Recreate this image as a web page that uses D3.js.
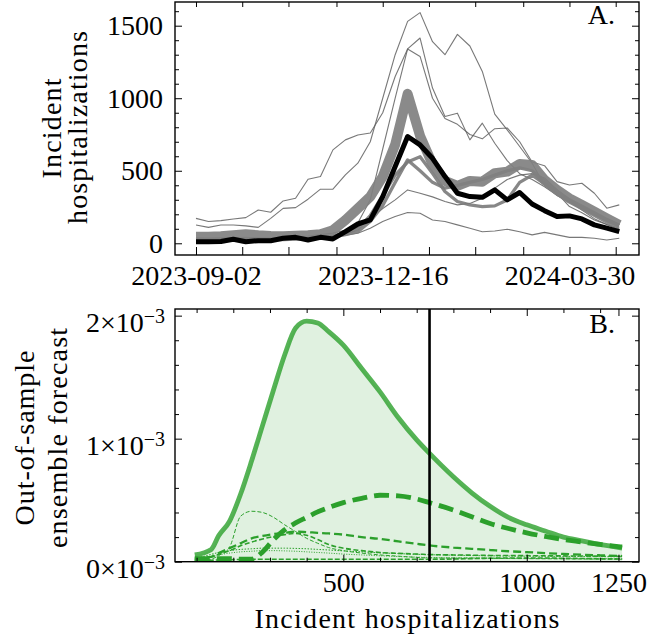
<!DOCTYPE html>
<html>
<head>
<meta charset="utf-8">
<script src="https://cdn.jsdelivr.net/npm/d3@7/dist/d3.min.js"></script>
<style>
  body { margin: 0; background: #fff; }
</style>
</head>
<body>
<div id="chart"></div>
<script>
// ---- panel A data (weekly incident hospitalizations) ----
const weeks = ["2023-09-02","2023-09-09","2023-09-16","2023-09-23","2023-09-30","2023-10-07","2023-10-14",
  "2023-10-21","2023-10-28","2023-11-04","2023-11-11","2023-11-18","2023-11-25","2023-12-02","2023-12-09",
  "2023-12-16","2023-12-23","2023-12-30","2024-01-06","2024-01-13","2024-01-20","2024-01-27","2024-02-03",
  "2024-02-10","2024-02-17","2024-02-24","2024-03-02","2024-03-09","2024-03-16","2024-03-23","2024-03-30",
  "2024-04-06","2024-04-13","2024-04-20","2024-04-27"];

const observed = [11, 11, 12, 28, 11, 18, 18, 35, 41, 23, 41, 30, 80, 133, 161, 322, 529, 736, 678, 586,
  460, 345, 322, 317, 368, 299, 350, 271, 225, 184, 189, 168, 127, 104, 80];

const bestModel = [45, 45, 48, 55, 62, 55, 50, 48, 52, 55, 62, 90, 160, 240, 322, 460, 680, 1030, 740, 545,
  430, 395, 430, 425, 483, 494, 547, 540, 437, 368, 310, 265, 218, 172, 126];

const midModels = [
  [30, 28, 30, 32, 34, 30, 28, 30, 34, 36, 40, 50, 70, 100, 190, 330, 470, 560, 597, 483,
   357, 288, 265, 253, 258, 299, 420, 470, 410, 340, 290, 245, 200, 160, 125],
  [25, 25, 26, 28, 30, 28, 26, 28, 30, 34, 38, 45, 60, 80, 150, 260, 420, 575, 500, 420,
   380, 400, 420, 440, 470, 500, 520, 500, 430, 360, 300, 255, 210, 165, 125]
];

const thinModels = [
  [172, 150, 156, 168, 177, 230, 214, 292, 310, 442, 460, 644, 713, 747, 760, 900, 1150, 1340, 1288, 1000,
   860, 820, 750, 720, 790, 795, 700, 560, 535, 425, 402, 414, 345, 242, 265],
  [126, 110, 126, 126, 120, 110, 172, 241, 246, 304, 373, 373, 471, 552, 700, 1000, 1300, 1530, 1590, 1390,
   1300, 1440, 1360, 1185, 890, 782, 667, 552, 402, 345, 253, 210, 161, 130, 103],
  [30, 28, 30, 32, 30, 35, 35, 40, 45, 50, 60, 70, 90, 140, 300, 650, 1000, 1340, 1415, 1070,
   874, 897, 713, 828, 690, 570, 480, 440, 390, 330, 290, 230, 170, 130, 95],
  [20, 20, 22, 22, 22, 25, 25, 28, 30, 32, 35, 40, 55, 69, 104, 150, 184, 212, 207, 161,
   150, 127, 104, 80, 85, 97, 80, 58, 75, 58, 41, 41, 35, 23, 35],
  [25, 25, 25, 28, 28, 30, 30, 32, 35, 40, 45, 55, 75, 110, 170, 240, 299, 368, 345, 320,
   288, 265, 275, 310, 380, 440, 470, 480, 450, 370, 300, 250, 200, 150, 110]
];

const hospTicks = [0, 500, 1000, 1500];
const hospMinor = [100, 200, 300, 400, 600, 700, 800, 900, 1100, 1200, 1300, 1400, 1600];
const dateLabels = ["2023-09-02", "2023-12-16", "2024-03-30"];
const dateMinor = ["2023-09-28", "2023-10-24", "2023-11-20", "2024-01-11", "2024-02-06", "2024-03-04", "2024-04-25"];

// ---- panel B data (forecast densities, in units of 1e-3) ----
const counts = [95, 140, 160, 190, 220, 250, 280, 310, 340, 370, 400, 430, 460, 500, 550, 600, 650, 700,
  735, 800, 850, 900, 950, 1000, 1050, 1100, 1150, 1200, 1260];

const ensemble = [0.055, 0.10, 0.21, 0.33, 0.55, 0.82, 1.11, 1.40, 1.68, 1.90, 1.955, 1.94, 1.87, 1.76,
  1.57, 1.38, 1.17, 0.99, 0.88, 0.69, 0.56, 0.45, 0.36, 0.30, 0.25, 0.20, 0.17, 0.14, 0.11];

const topComponent = [0.025, 0.025, 0.025, 0.025, 0.02, 0.02, 0.08, 0.18, 0.26, 0.315, 0.36, 0.405, 0.44,
  0.48, 0.515, 0.54, 0.535, 0.51, 0.48, 0.42, 0.365, 0.31, 0.27, 0.235, 0.205, 0.18, 0.16, 0.14, 0.12];

const components = [
  [0.0, 0.02, 0.05, 0.12, 0.37, 0.41, 0.40, 0.36, 0.30, 0.245, 0.19, 0.15, 0.115, 0.09, 0.07, 0.055, 0.045,
   0.035, 0.03, 0.03, 0.03, 0.028, 0.026, 0.025, 0.024, 0.023, 0.022, 0.021, 0.02],
  [0.03, 0.04, 0.07, 0.11, 0.15, 0.19, 0.21, 0.225, 0.235, 0.244, 0.24, 0.235, 0.23, 0.22, 0.20, 0.185,
   0.165, 0.145, 0.132, 0.115, 0.105, 0.095, 0.085, 0.078, 0.07, 0.063, 0.057, 0.052, 0.046],
  [0.02, 0.04, 0.06, 0.09, 0.13, 0.16, 0.185, 0.205, 0.22, 0.23, 0.215, 0.18, 0.14, 0.11, 0.09, 0.075,
   0.068, 0.062, 0.058, 0.055, 0.053, 0.051, 0.05, 0.049, 0.048, 0.047, 0.046, 0.045, 0.044],
  [0.02, 0.06, 0.075, 0.09, 0.10, 0.105, 0.11, 0.11, 0.11, 0.108, 0.105, 0.10, 0.095, 0.088, 0.08, 0.072,
   0.066, 0.06, 0.057, 0.053, 0.05, 0.048, 0.046, 0.045, 0.044, 0.043, 0.042, 0.041, 0.04],
  [0.01, 0.04, 0.055, 0.07, 0.08, 0.085, 0.09, 0.09, 0.088, 0.085, 0.08, 0.075, 0.07, 0.062, 0.055, 0.048,
   0.042, 0.037, 0.034, 0.031, 0.03, 0.029, 0.028, 0.027, 0.026, 0.025, 0.025, 0.024, 0.024],
  [0.01, 0.012, 0.014, 0.016, 0.018, 0.02, 0.02, 0.02, 0.02, 0.02, 0.02, 0.02, 0.02, 0.02, 0.02, 0.02,
   0.02, 0.02, 0.02, 0.022, 0.025, 0.028, 0.03, 0.03, 0.03, 0.028, 0.026, 0.024, 0.022]
];
const observedCount = 735;

const densTicks = [0, 1, 2];
const densMinor = [0.2, 0.4, 0.6, 0.8, 1.2, 1.4, 1.6, 1.8];
const countTicks = [500, 1000, 1250];
const countMinor = [100, 200, 300, 400, 600, 700, 800, 900, 1100, 1200];

// ---- layout ----
const W = 670, H = 636;
const left = 175, right = 639;
const pA = { top: 2, bottom: 255 };
const pB = { top: 309, bottom: 561.7 };
const green = "#2ca02c";
const FONT = "'Liberation Serif', 'DejaVu Serif', serif";

const svg = d3.select("#chart").append("svg")
    .attr("width", W)
    .attr("height", H)
    .attr("font-family", FONT);

const parse = d3.utcParse("%Y-%m-%d");
const fmtDate = d3.utcFormat("%Y-%m-%d");
const t0 = parse(weeks[0]);
const day = 864e5;

const xA = d3.scaleUtc()
    .domain([new Date(t0.getTime() - 11.8 * day), new Date(t0.getTime() + 249.1 * day)])
    .range([left, right]);
const yA = d3.scaleLinear().domain([-80.7, 1663.4]).range([pA.bottom, pA.top]);

const xB = d3.scaleLinear().domain([41.1, 1306]).range([left, right]);
const yB = d3.scaleLinear().domain([0, 2.054]).range([pB.bottom, pB.top]);

const defs = svg.append("defs");
defs.append("clipPath").attr("id", "clipA").append("rect")
    .attr("x", left).attr("y", pA.top).attr("width", right - left).attr("height", pA.bottom - pA.top);
defs.append("clipPath").attr("id", "clipB").append("rect")
    .attr("x", left).attr("y", pB.top).attr("width", right - left).attr("height", pB.bottom - pB.top);

function label(sel) {
    return sel.attr("font-family", FONT).style("font-family", FONT)
        .style("font-size", "28px").attr("fill", "#000");
}

// ---- panel A ----
const gA = svg.append("g").attr("clip-path", "url(#clipA)");
const lineA = d3.line()
    .x((d, i) => xA(parse(weeks[i])))
    .y(d => yA(d));

thinModels.forEach(s => {
    gA.append("path").attr("d", lineA(s))
        .attr("fill", "none").attr("stroke", "#606060").attr("stroke-width", 1.1)
        .attr("stroke-opacity", 0.85).attr("stroke-linejoin", "round");
});
midModels.forEach(s => {
    gA.append("path").attr("d", lineA(s))
        .attr("fill", "none").attr("stroke", "#7a7a7a").attr("stroke-width", 3.3)
        .attr("stroke-opacity", 0.9).attr("stroke-linejoin", "round");
});
gA.append("path").attr("d", lineA(bestModel))
    .attr("fill", "none").attr("stroke", "#808080").attr("stroke-width", 10)
    .attr("stroke-opacity", 0.92).attr("stroke-linejoin", "round");
gA.append("path").attr("d", lineA(observed))
    .attr("fill", "none").attr("stroke", "#000").attr("stroke-width", 5)
    .attr("stroke-linejoin", "round");

// axes A
function styleAxis(g) {
    g.attr("font-family", FONT);
    g.select(".domain").remove();
    g.selectAll(".tick line").attr("stroke", "#000").attr("stroke-width", 1);
    g.selectAll("text").call(label);
}
const dateTicks = dateLabels.concat(dateMinor).map(parse);

svg.append("g").attr("transform", `translate(0,${pA.bottom})`)
    .call(d3.axisBottom(xA).tickValues(dateTicks).tickSize(-8).tickPadding(10)
        .tickFormat(d => dateLabels.includes(fmtDate(d)) ? fmtDate(d) : ""))
    .call(styleAxis);
svg.append("g").attr("transform", `translate(0,${pA.top})`)
    .call(d3.axisTop(xA).tickValues(dateTicks).tickSize(-5).tickFormat(""))
    .call(styleAxis);
svg.append("g").attr("transform", `translate(${left},0)`)
    .call(d3.axisLeft(yA).tickValues(hospTicks).tickSize(-7).tickPadding(12).tickFormat(d3.format("d")))
    .call(styleAxis);
svg.append("g").attr("transform", `translate(${left},0)`)
    .call(d3.axisLeft(yA).tickValues(hospMinor).tickSize(-4).tickFormat(""))
    .call(styleAxis);
svg.append("g").attr("transform", `translate(${right},0)`)
    .call(d3.axisRight(yA).tickValues(hospTicks).tickSize(-7).tickFormat(""))
    .call(styleAxis);
svg.append("g").attr("transform", `translate(${right},0)`)
    .call(d3.axisRight(yA).tickValues(hospMinor).tickSize(-4).tickFormat(""))
    .call(styleAxis);

svg.append("rect").attr("x", left).attr("y", pA.top)
    .attr("width", right - left).attr("height", pA.bottom - pA.top)
    .attr("fill", "none").attr("stroke", "#000").attr("stroke-width", 1.4);

svg.append("text").attr("x", 615).attr("y", 24).attr("text-anchor", "end")
    .call(label).text("A.");

const midA = (pA.top + pA.bottom) / 2;
svg.append("text").attr("transform", `translate(61,${midA}) rotate(-90)`)
    .attr("text-anchor", "middle").call(label)
    .attr("textLength", 100).attr("lengthAdjust", "spacing").text("Incident");
svg.append("text").attr("transform", `translate(87,${midA - 1}) rotate(-90)`)
    .attr("text-anchor", "middle").call(label)
    .attr("textLength", 193).attr("lengthAdjust", "spacing").text("hospitalizations");

// ---- panel B ----
const gB = svg.append("g").attr("clip-path", "url(#clipB)");
const curve = d3.curveMonotoneX;
gB.append("path")
    .attr("d", d3.area().x((d, i) => xB(counts[i])).y0(yB(0)).y1(d => yB(d)).curve(curve)(ensemble))
    .attr("fill", green).attr("fill-opacity", 0.15);

const lineB = d3.line().x((d, i) => xB(counts[i])).y(d => yB(d)).curve(curve);
const compStyle = [
    { w: 1.0, dash: "4,2" },
    { w: 2.3, dash: "8,4" },
    { w: 1.6, dash: "5,2.5" },
    { w: 1.0, dash: "1.5,1.5" },
    { w: 1.0, dash: "1,1.5" },
    { w: 1.6, dash: "5,2" }
];
components.forEach((s, k) => {
    gB.append("path").attr("d", lineB(s))
        .attr("fill", "none").attr("stroke", green)
        .attr("stroke-width", compStyle[k].w).attr("stroke-dasharray", compStyle[k].dash);
});
gB.append("path").attr("d", lineB(topComponent))
    .attr("fill", "none").attr("stroke", green).attr("stroke-width", 4.8)
    .attr("stroke-dasharray", "15,7");
gB.append("path").attr("d", lineB(ensemble))
    .attr("fill", "none").attr("stroke", green).attr("stroke-opacity", 0.8)
    .attr("stroke-width", 4.8).attr("stroke-linejoin", "round");
gB.append("line")
    .attr("x1", xB(observedCount)).attr("x2", xB(observedCount))
    .attr("y1", pB.top).attr("y2", pB.bottom)
    .attr("stroke", "#000").attr("stroke-width", 2.6);

// axes B
svg.append("g").attr("transform", `translate(0,${pB.bottom})`)
    .call(d3.axisBottom(xB).tickValues(countTicks).tickSize(-7).tickPadding(10).tickFormat(d3.format("d")))
    .call(styleAxis);
svg.append("g").attr("transform", `translate(0,${pB.bottom})`)
    .call(d3.axisBottom(xB).tickValues(countMinor).tickSize(-4).tickFormat(""))
    .call(styleAxis);
svg.append("g").attr("transform", `translate(0,${pB.top})`)
    .call(d3.axisTop(xB).tickValues(countTicks).tickSize(-7).tickFormat(""))
    .call(styleAxis);
svg.append("g").attr("transform", `translate(0,${pB.top})`)
    .call(d3.axisTop(xB).tickValues(countMinor).tickSize(-4).tickFormat(""))
    .call(styleAxis);

const yAxB = svg.append("g").attr("transform", `translate(${left},0)`)
    .call(d3.axisLeft(yB).tickValues(densTicks).tickSize(-7).tickPadding(10))
    .call(styleAxis);
yAxB.selectAll(".tick text").each(function(d) {
    const t = d3.select(this).text("").attr("dy", "0.55em");
    t.append("tspan").text(`${d}×10`);
    t.append("tspan").attr("dy", "-0.45em").style("font-size", "20px").text("−3");
});
svg.append("g").attr("transform", `translate(${left},0)`)
    .call(d3.axisLeft(yB).tickValues(densMinor).tickSize(-4).tickFormat(""))
    .call(styleAxis);
svg.append("g").attr("transform", `translate(${right},0)`)
    .call(d3.axisRight(yB).tickValues(densTicks).tickSize(-7).tickFormat(""))
    .call(styleAxis);
svg.append("g").attr("transform", `translate(${right},0)`)
    .call(d3.axisRight(yB).tickValues(densMinor).tickSize(-4).tickFormat(""))
    .call(styleAxis);

svg.append("rect").attr("x", left).attr("y", pB.top)
    .attr("width", right - left).attr("height", pB.bottom - pB.top)
    .attr("fill", "none").attr("stroke", "#000").attr("stroke-width", 1.4);

svg.append("text").attr("x", 615).attr("y", 333).attr("text-anchor", "end")
    .call(label).text("B.");

svg.append("text").attr("x", (left + right) / 2).attr("y", 628)
    .attr("text-anchor", "middle").call(label)
    .attr("textLength", 305).attr("lengthAdjust", "spacing").text("Incident hospitalizations");

const midB = 438;
svg.append("text").attr("transform", `translate(34,${midB}) rotate(-90)`)
    .attr("text-anchor", "middle").call(label)
    .attr("textLength", 175).attr("lengthAdjust", "spacing").text("Out-of-sample");
svg.append("text").attr("transform", `translate(67,${midB}) rotate(-90)`)
    .attr("text-anchor", "middle").call(label)
    .attr("textLength", 220).attr("lengthAdjust", "spacing").text("ensemble forecast");
</script>
</body>
</html>
